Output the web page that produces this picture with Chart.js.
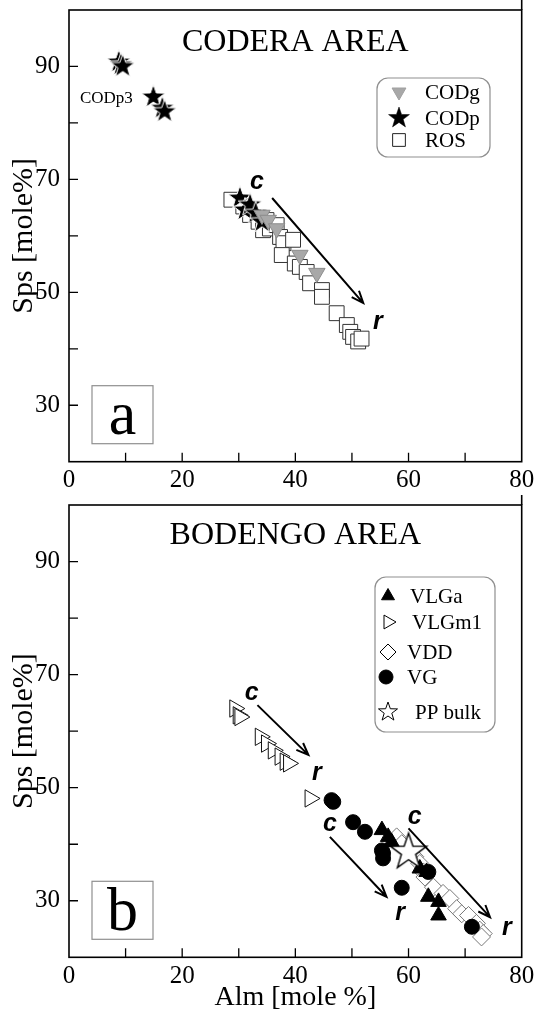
<!DOCTYPE html>
<html>
<head>
<meta charset="utf-8">
<script src="https://cdn.jsdelivr.net/npm/chart.js@4/dist/chart.umd.min.js"></script>
<style>
  html, body { margin: 0; padding: 0; background: #fff; }
  #boxA { position: absolute; left: 0; top: 0; }
  #boxB { position: absolute; left: 0; top: 490px; }
</style>
</head>
<body>
<div id="boxA"><canvas id="chartA" width="535" height="490"></canvas></div>
<div id="boxB"><canvas id="chartB" width="535" height="525"></canvas></div>
<script>
// axis tick labels
const xLabels = [0, 20, 40, 60, 80];
const yLabels = [30, 50, 70, 90];

// panel a - CODERA AREA  (Alm, Sps in mole %)
const codgAlm = [34.1, 35.2, 36.7, 40.8, 43.8];
const codgSps = [63.7, 62.8, 61.3, 56.6, 53.4];
const codpAlm = [8.8, 9.2, 9.5, 14.9, 16.5, 16.9, 30.2, 31.1, 32.0, 33.0, 34.1];
const codpSps = [90.8, 90.3, 90.0, 84.6, 82.6, 82.0, 66.7, 64.6, 65.5, 64.0, 62.5];
const rosAlm = [28.7, 30.8, 32.0, 33.5, 34.9, 34.3, 35.5, 36.7, 37.3, 37.9, 39.6, 37.6, 39.9, 40.8, 42.0, 42.6, 44.7, 44.7, 47.3, 49.1, 49.7, 50.2, 51.1, 51.7];
const rosSps = [66.4, 65.2, 63.7, 62.5, 62.8, 61.0, 61.3, 61.9, 59.8, 58.7, 59.3, 56.6, 55.1, 54.5, 53.6, 51.6, 50.4, 49.2, 46.3, 44.2, 43.0, 42.1, 41.3, 41.8];

// panel b - BODENGO AREA
const vlgaAlm = [55.3, 56.4, 57.0, 62.0, 63.2, 63.5, 65.3, 65.3];
const vlgaSps = [42.5, 41.3, 40.4, 35.7, 35.1, 30.7, 29.8, 27.4];
const vlgm1Alm = [29.3, 29.9, 30.2, 33.8, 34.9, 36.1, 37.3, 38.2, 38.8, 42.6];
const vlgm1Sps = [64.0, 62.8, 62.5, 59.0, 57.8, 56.6, 55.5, 54.6, 54.3, 48.1];
const vddAlm = [57.9, 58.8, 61.1, 62.0, 62.6, 62.9, 64.4, 66.1, 67.3, 68.5, 69.4, 70.6, 72.0, 72.6, 73.2, 72.9];
const vddSps = [41.3, 40.1, 37.8, 36.6, 35.1, 34.2, 32.4, 31.3, 30.4, 28.6, 27.7, 27.4, 26.0, 24.8, 24.2, 23.6];
const vgAlm = [46.4, 46.7, 50.2, 52.3, 55.3, 55.5, 55.5, 58.8, 63.5, 71.2];
const vgSps = [47.8, 47.5, 43.9, 42.2, 38.9, 38.4, 37.5, 32.3, 35.1, 25.4];
const ppAlm = [60.0];
const ppSps = [38.6];

// core -> rim arrows, in data units [Alm, Sps]
const arrowsA = [{ from: [35.9, 66.7], to: [52.0, 48.1], c: [33.2, 69.5], r: [54.6, 44.7] }];
const arrowsB = [
  { from: [33.3, 64.6], to: [42.3, 55.8], c: [32.3, 66.7], r: [43.8, 52.6] },
  { from: [46.1, 41.3], to: [56.1, 30.7], c: [46.1, 43.6], r: [58.5, 27.8] },
  { from: [60.0, 42.8], to: [74.4, 27.1], c: [61.1, 44.8], r: [77.4, 25.1] }
];

const SERIF = '"Liberation Serif", "Times New Roman", serif';
const SANS = '"Liberation Sans", Arial, sans-serif';
Chart.defaults.font.family = SERIF;
Chart.defaults.color = '#000';

const pts = (xs, ys) => xs.map((x, i) => ({ x: x, y: ys[i] }));

function star(size, outer, inner, fill, stroke, lw) {
  const c = document.createElement('canvas');
  c.width = c.height = size;
  const g = c.getContext('2d');
  g.beginPath();
  for (let i = 0; i < 10; i++) {
    const rr = i % 2 ? inner : outer;
    const a = -Math.PI / 2 + i * Math.PI / 5;
    const px = size / 2 + rr * Math.cos(a), py = size / 2 + rr * Math.sin(a);
    if (i) g.lineTo(px, py); else g.moveTo(px, py);
  }
  g.closePath();
  g.fillStyle = fill;
  g.fill();
  g.lineWidth = lw;
  g.strokeStyle = stroke;
  g.stroke();
  return c;
}
const starBlack = star(28, 12.5, 5, '#000', '#fff', 1);
const starBlackSmall = star(24, 11, 4.4, '#000', '#000', 0.5);
const starOpen = star(42, 19, 7.5, '#fff', '#000', 1.4);
const starOpenSmall = star(24, 10, 4, '#fff', '#000', 1);

function xScale(title) {
  return {
    type: 'linear', min: 0, max: 80,
    ticks: { stepSize: 10, autoSkip: false, maxRotation: 0, padding: 4, color: '#000',
      font: { size: 25, family: SERIF },
      callback: v => xLabels.includes(v) ? String(v) : '' },
    grid: { display: false, drawTicks: false },
    border: { display: false },
    title: title ? { display: true, text: title, color: '#000',
      font: { size: 28, family: SERIF, lineHeight: 1 }, padding: { top: 0, bottom: 3 } } : { display: false },
    afterFit: s => {
      s.height = title ? 57.7 : 28.3;
      s.paddingLeft = 0;
      s.paddingRight = 0;
    }
  };
}
function yScale() {
  return {
    type: 'linear', min: 20, max: 100,
    ticks: { stepSize: 10, autoSkip: false, padding: 9, color: '#000',
      font: { size: 25, family: SERIF },
      callback: v => yLabels.includes(v) ? String(v) : '' },
    grid: { display: false, drawTicks: false },
    border: { display: false },
    title: { display: true, text: 'Sps [mole%]', color: '#000',
      font: { size: 30, family: SERIF, lineHeight: 1 }, padding: { top: 9, bottom: 0 } },
    afterFit: s => {
      s.width = 69;
      s.paddingTop = 0;
      s.paddingBottom = 0;
    }
  };
}

function drawArrow(ctx, x1, y1, x2, y2) {
  const a = Math.atan2(y2 - y1, x2 - x1);
  const h = 13, w = 0.38;
  ctx.beginPath();
  ctx.moveTo(x1, y1);
  ctx.lineTo(x2, y2);
  ctx.moveTo(x2 - h * Math.cos(a - w), y2 - h * Math.sin(a - w));
  ctx.lineTo(x2, y2);
  ctx.lineTo(x2 - h * Math.cos(a + w), y2 - h * Math.sin(a + w));
  ctx.stroke();
}

function legendBox(ctx, box, items) {
  ctx.save();
  ctx.beginPath();
  ctx.roundRect(box.x, box.y, box.w, box.h, 11);
  ctx.fillStyle = '#fff';
  ctx.fill();
  ctx.strokeStyle = '#8f8f8f';
  ctx.lineWidth = 1.2;
  ctx.stroke();
  items.forEach(it => {
    ctx.fillStyle = it.fill;
    ctx.strokeStyle = it.stroke;
    ctx.lineWidth = it.lw;
    Chart.helpers.drawPoint(ctx, { pointStyle: it.style, radius: it.r, rotation: it.rot || 0, borderWidth: it.lw }, it.sx, it.y);
    ctx.fillStyle = '#000';
    ctx.font = '21px ' + SERIF;
    ctx.textAlign = 'left';
    ctx.textBaseline = 'middle';
    ctx.fillText(it.label, it.tx, it.y + 1);
  });
  ctx.restore();
}

// frame, inward ticks, area title, panel letter, arrows, legend
function decorPlugin(cfg) {
  return {
    id: 'decor',
    afterDraw(chart) {
      const ctx = chart.ctx, ca = chart.chartArea;
      const sx = chart.scales.x, sy = chart.scales.y;
      ctx.save();
      ctx.strokeStyle = '#000';
      ctx.lineWidth = 1.6;
      ctx.strokeRect(ca.left, ca.top, ca.right - ca.left, ca.bottom - ca.top);
      ctx.beginPath();
      ctx.moveTo(ca.right, ca.top - 10);
      ctx.lineTo(ca.right, ca.top);
      ctx.stroke();
      ctx.lineWidth = 1.3;
      ctx.beginPath();
      sx.ticks.forEach(t => {
        if (t.value <= sx.min || t.value >= sx.max) return;
        const px = sx.getPixelForValue(t.value);
        ctx.moveTo(px, ca.bottom);
        ctx.lineTo(px, ca.bottom - 9);
      });
      sy.ticks.forEach(t => {
        if (t.value <= sy.min || t.value >= sy.max) return;
        const py = sy.getPixelForValue(t.value);
        ctx.moveTo(ca.left, py);
        ctx.lineTo(ca.left + 9, py);
      });
      ctx.stroke();

      // area title
      ctx.fillStyle = '#000';
      ctx.font = '32px ' + SERIF;
      ctx.textAlign = 'center';
      ctx.textBaseline = 'middle';
      ctx.fillText(cfg.title, (ca.left + ca.right) / 2, ca.top + cfg.titleDy);

      // panel letter in a box
      const bx = ca.left + 23, by = ca.bottom - 76, bw = 61, bh = 58;
      ctx.strokeStyle = '#8f8f8f';
      ctx.lineWidth = 1.2;
      ctx.strokeRect(bx, by, bw, bh);
      ctx.font = '62px ' + SERIF;
      ctx.fillText(cfg.letter, bx + bw / 2, by + bh / 2 + 3);

      // arrows with c / r labels
      ctx.strokeStyle = '#000';
      ctx.lineWidth = 2;
      ctx.font = 'italic bold 25px ' + SANS;
      cfg.arrows.forEach(a => {
        drawArrow(ctx, sx.getPixelForValue(a.from[0]), sy.getPixelForValue(a.from[1]),
          sx.getPixelForValue(a.to[0]), sy.getPixelForValue(a.to[1]));
        ctx.fillText('c', sx.getPixelForValue(a.c[0]), sy.getPixelForValue(a.c[1]));
        ctx.fillText('r', sx.getPixelForValue(a.r[0]), sy.getPixelForValue(a.r[1]));
      });

      if (cfg.note) {
        ctx.font = '17px ' + SERIF;
        ctx.fillText(cfg.note.text, sx.getPixelForValue(cfg.note.at[0]), sy.getPixelForValue(cfg.note.at[1]));
      }
      ctx.restore();
      legendBox(ctx, cfg.legend.box, cfg.legend.items);
    }
  };
}

function baseOptions(padTop, xTitle) {
  return {
    responsive: false,
    animation: false,
    events: [],
    layout: { autoPadding: false, padding: { left: 0, right: 13.3, top: padTop, bottom: 0 } },
    plugins: { legend: { display: false }, tooltip: { enabled: false } },
    scales: { x: xScale(xTitle), y: yScale() }
  };
}

new Chart(document.getElementById('chartA'), {
  type: 'scatter',
  data: {
    datasets: [
      { label: 'CODg', data: pts(codgAlm, codgSps), pointStyle: 'triangle', rotation: 180, pointRadius: 9.5,
        backgroundColor: '#a8a8a8', borderColor: '#8c8c8c', borderWidth: 1, order: 0 },
      { label: 'CODp', data: pts(codpAlm, codpSps), pointStyle: starBlack, pointRadius: 12, order: 1 },
      { label: 'ROS', data: pts(rosAlm, rosSps), pointStyle: 'rect', pointRadius: 10.5,
        backgroundColor: '#fff', borderColor: '#333', borderWidth: 1, order: 2 }
    ]
  },
  options: baseOptions(10, null),
  plugins: [decorPlugin({
    title: 'CODERA AREA', titleDy: 33, letter: 'a', arrows: arrowsA,
    note: { text: 'CODp3', at: [6.6, 84.4] },
    legend: {
      box: { x: 377, y: 78, w: 113, h: 79 },
      items: [
        { label: 'CODg', style: 'triangle', rot: 180, r: 8, fill: '#a8a8a8', stroke: '#a0a0a0', lw: 1, sx: 399, tx: 425, y: 92 },
        { label: 'CODp', style: starBlackSmall, r: 10, fill: '#000', stroke: '#000', lw: 1, sx: 399, tx: 425, y: 118 },
        { label: 'ROS', style: 'rect', r: 9, fill: '#fff', stroke: '#222', lw: 1, sx: 399, tx: 425, y: 140 }
      ]
    }
  })]
});

new Chart(document.getElementById('chartB'), {
  type: 'scatter',
  data: {
    datasets: [
      { label: 'VLGa', data: pts(vlgaAlm, vlgaSps), pointStyle: 'triangle', pointRadius: 9,
        backgroundColor: '#000', borderColor: '#000', borderWidth: 1, order: 1 },
      { label: 'VLGm1', data: pts(vlgm1Alm, vlgm1Sps), pointStyle: 'triangle', rotation: 90, pointRadius: 10,
        backgroundColor: '#fff', borderColor: '#111', borderWidth: 1, order: 3 },
      { label: 'VDD', data: pts(vddAlm, vddSps), pointStyle: 'rectRot', pointRadius: 9,
        backgroundColor: '#fff', borderColor: '#777', borderWidth: 1, order: 4 },
      { label: 'VG', data: pts(vgAlm, vgSps), pointStyle: 'circle', pointRadius: 7.5,
        backgroundColor: '#000', borderColor: '#000', borderWidth: 1, order: 2 },
      { label: 'PP bulk', data: pts(ppAlm, ppSps), pointStyle: starOpen, pointRadius: 19, order: 0 }
    ]
  },
  options: baseOptions(15, 'Alm [mole %]'),
  plugins: [decorPlugin({
    title: 'BODENGO AREA', titleDy: 31, letter: 'b', arrows: arrowsB,
    legend: {
      box: { x: 375, y: 87, w: 120, h: 155 },
      items: [
        { label: 'VLGa', style: 'triangle', r: 7.5, fill: '#000', stroke: '#000', lw: 1, sx: 388, tx: 410, y: 106 },
        { label: 'VLGm1', style: 'triangle', rot: 90, r: 8, fill: '#fff', stroke: '#000', lw: 1, sx: 388, tx: 412, y: 132 },
        { label: 'VDD', style: 'rectRot', r: 8, fill: '#fff', stroke: '#000', lw: 1, sx: 388, tx: 407, y: 162 },
        { label: 'VG', style: 'circle', r: 7, fill: '#000', stroke: '#000', lw: 1, sx: 386, tx: 407, y: 187 },
        { label: 'PP bulk', style: starOpenSmall, r: 10, fill: '#fff', stroke: '#000', lw: 1, sx: 388, tx: 415, y: 222 }
      ]
    }
  })]
});
</script>
</body>
</html>
